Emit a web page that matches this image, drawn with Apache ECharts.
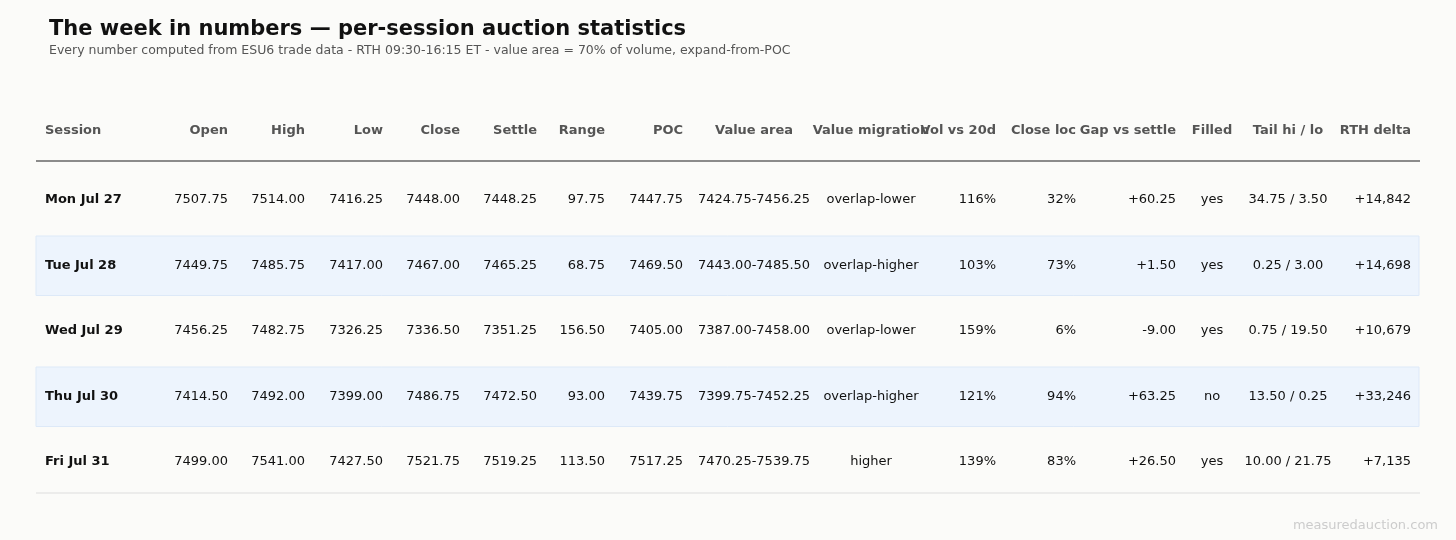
<!DOCTYPE html>
<html><head><meta charset="utf-8">
<script src="https://cdn.jsdelivr.net/npm/echarts@6/dist/echarts.min.js"></script>
<style>html,body{margin:0;background:#fbfbf9}#main{width:1456px;height:540px}</style>
</head><body><div id="main"></div>
<script>
let headers = ['Session', 'Open', 'High', 'Low', 'Close', 'Settle', 'Range', 'POC', 'Value area', 'Value migration', 'Vol vs 20d', 'Close loc', 'Gap vs settle', 'Filled', 'Tail hi / lo', 'RTH delta']
let sessions = ['Mon Jul 27', 'Tue Jul 28', 'Wed Jul 29', 'Thu Jul 30', 'Fri Jul 31']
let open = ['7507.75', '7449.75', '7456.25', '7414.50', '7499.00']
let high = ['7514.00', '7485.75', '7482.75', '7492.00', '7541.00']
let low = ['7416.25', '7417.00', '7326.25', '7399.00', '7427.50']
let close = ['7448.00', '7467.00', '7336.50', '7486.75', '7521.75']
let settle = ['7448.25', '7465.25', '7351.25', '7472.50', '7519.25']
let range = ['97.75', '68.75', '156.50', '93.00', '113.50']
let poc = ['7447.75', '7469.50', '7405.00', '7439.75', '7517.25']
let valueArea = ['7424.75-7456.25', '7443.00-7485.50', '7387.00-7458.00', '7399.75-7452.25', '7470.25-7539.75']
let migration = ['overlap-lower', 'overlap-higher', 'overlap-lower', 'overlap-higher', 'higher']
let vol = ['116%', '103%', '159%', '121%', '139%']
let closeLoc = ['32%', '73%', '6%', '94%', '83%']
let gap = ['+60.25', '+1.50', '-9.00', '+63.25', '+26.50']
let filled = ['yes', 'yes', 'yes', 'no', 'yes']
let tails = ['34.75 / 3.50', '0.25 / 3.00', '0.75 / 19.50', '13.50 / 0.25', '10.00 / 21.75']
let delta = ['+14,842', '+14,698', '+10,679', '+33,246', '+7,135']

// column anchor x and alignment
let colX = [45, 228, 305, 383, 460, 537, 605, 683, 754, 871, 996, 1076, 1176, 1212, 1288, 1411]
let colAlign = ['left', 'right', 'right', 'right', 'right', 'right', 'right', 'right', 'center', 'center', 'right', 'right', 'right', 'center', 'center', 'right']
let columns = [sessions, open, high, low, close, settle, range, poc, valueArea, migration, vol, closeLoc, gap, filled, tails, delta]

let rowY = i => 200 + i * 65.5

let myChart = echarts.init(document.getElementById('main'))

function renderRow(params, api) {
    let i = api.value(0)
    let children = []
    if (i === -1) {
        headers.forEach((h, c) => {
            let p = api.coord([colX[c], 131])
            children.push({type: 'text', style: {x: p[0], y: p[1], text: h, align: colAlign[c], verticalAlign: 'middle',
                font: 'bold 13px "DejaVu Sans"', fill: '#555'}})
        })
        let a = api.coord([36, 161]), b = api.coord([1420, 161])
        children.push({type: 'line', shape: {x1: a[0], y1: a[1], x2: b[0], y2: b[1]}, style: {stroke: '#666', lineWidth: 1.5}})
        let c1 = api.coord([36, 493]), c2 = api.coord([1420, 493])
        children.push({type: 'line', shape: {x1: c1[0], y1: c1[1], x2: c2[0], y2: c2[1]}, style: {stroke: '#ddd', lineWidth: 1}})
        return {type: 'group', children: children}
    }
    let y = rowY(i)
    if (i % 2 === 1) {
        let tl = api.coord([36, y - 29.5]), br = api.coord([1419, y + 30])
        children.push({type: 'rect', shape: {x: tl[0], y: tl[1], width: br[0] - tl[0], height: br[1] - tl[1]},
            style: {fill: '#edf4fd', stroke: '#dde9f8', lineWidth: 1}})
    }
    columns.forEach((col, c) => {
        let p = api.coord([colX[c], y])
        children.push({type: 'text', style: {x: p[0], y: p[1], text: col[i], align: colAlign[c], verticalAlign: 'middle',
            font: (c === 0 ? 'bold ' : '') + '13px "DejaVu Sans"', fill: '#111'}})
    })
    return {type: 'group', children: children}
}

let option = {
    backgroundColor: '#fbfbf9',
    title: {
        text: 'The week in numbers — per-session auction statistics',
        subtext: 'Every number computed from ESU6 trade data - RTH 09:30-16:15 ET - value area = 70% of volume, expand-from-POC',
        left: 44, top: 14, itemGap: 4,
        textStyle: {fontFamily: 'DejaVu Sans', fontSize: 21, fontWeight: 'bold', color: '#111'},
        subtextStyle: {fontFamily: 'DejaVu Sans', fontSize: 12.5, color: '#555'}
    },
    graphic: [{type: 'text', right: 18, bottom: 8, style: {text: 'measuredauction.com', font: '13px "DejaVu Sans"', fill: '#ccc'}}],
    grid: {left: 0, right: 0, top: 0, bottom: 0},
    xAxis: {type: 'value', min: 0, max: 1456, show: false},
    yAxis: {type: 'value', min: 0, max: 540, inverse: true, show: false},
    series: [{
        type: 'custom',
        renderItem: renderRow,
        data: [[-1]].concat(sessions.map((s, i) => [i])),
        animation: false,
        silent: true
    }]
}
myChart.setOption(option)
</script></body></html>
